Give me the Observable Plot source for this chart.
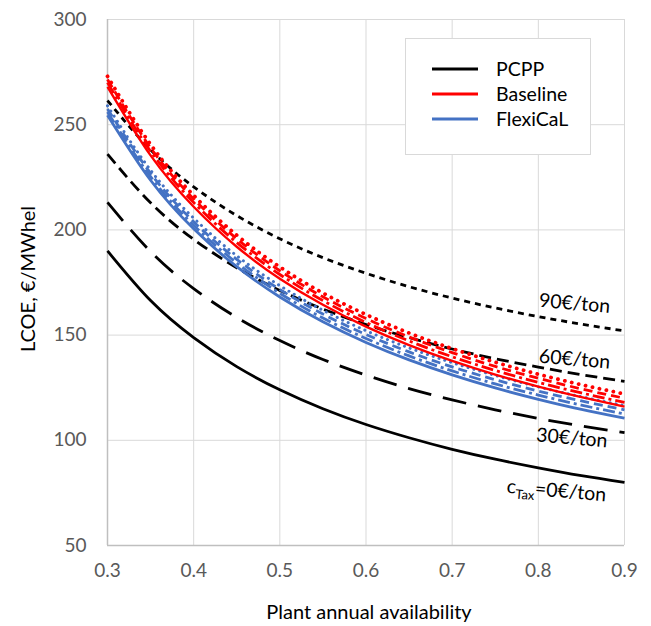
<!DOCTYPE html>
<html>
<head>
<meta charset="utf-8">
<script src="https://cdn.jsdelivr.net/npm/d3@7"></script>
<script src="https://cdn.jsdelivr.net/npm/@observablehq/plot@0.6"></script>
<style>
  html, body { margin: 0; padding: 0; background: #fff; }
  #chart { width: 651px; height: 626px; }
</style>
</head>
<body>
<div id="chart"></div>
<script>
// ---- Data ----
const availability = [0.3, 0.35, 0.4, 0.45, 0.5, 0.55, 0.6, 0.65, 0.7, 0.75, 0.8, 0.85, 0.9];

const pcpp0  = [190.0, 166.4, 148.8, 135.0, 124.0, 115.0, 107.5, 101.2, 95.7, 91.0, 86.9, 83.2, 80.0];
const pcpp30 = [213.1, 189.7, 172.1, 158.4, 147.4, 138.4, 131.0, 124.6, 119.2, 114.5, 110.4, 106.8, 103.6];
const pcpp60 = [236.0, 212.9, 195.5, 182.0, 171.2, 162.4, 155.0, 148.8, 143.4, 138.8, 134.8, 131.2, 128.0];
const pcpp90 = [261.5, 238.1, 220.5, 206.8, 195.8, 186.8, 179.4, 173.0, 167.6, 162.9, 158.8, 155.2, 152.0];

const base0  = [268.0, 235.4, 211.0, 192.0, 176.8, 164.4, 154.0, 145.2, 137.7, 131.2, 125.5, 120.5, 116.0];
const base30 = [270.0, 237.4, 213.0, 194.0, 178.8, 166.4, 156.0, 147.2, 139.7, 133.2, 127.5, 122.5, 118.0];
const base60 = [271.5, 239.0, 214.7, 195.8, 180.6, 168.2, 157.9, 149.1, 141.7, 135.1, 129.5, 124.4, 120.0];
const base90 = [273.0, 240.6, 216.4, 197.5, 182.4, 170.0, 159.8, 151.0, 143.6, 137.1, 131.4, 126.4, 122.0];

const flex0  = [254.5, 223.6, 200.5, 182.5, 168.1, 156.3, 146.5, 138.2, 131.1, 124.9, 119.5, 114.7, 110.5];
const flex30 = [256.0, 225.3, 202.2, 184.3, 169.9, 158.1, 148.4, 140.1, 133.0, 126.8, 121.5, 116.7, 112.5];
const flex60 = [257.5, 226.9, 203.9, 186.0, 171.7, 160.0, 150.3, 142.0, 134.9, 128.8, 123.4, 118.7, 114.5];
const flex90 = [259.0, 228.4, 205.6, 187.7, 173.5, 161.8, 152.1, 143.9, 136.9, 130.8, 125.4, 120.7, 116.5];

const legendNames = ["PCPP", "Baseline", "FlexiCaL"];
const taxLabels = ["90€/ton", "60€/ton", "30€/ton", "cTax=0€/ton"];
const xTicks = [0.3, 0.4, 0.5, 0.6, 0.7, 0.8, 0.9];
const yTicks = [50, 100, 150, 200, 250, 300];
const xTitle = "Plant annual availability";
const yTitle = "LCOE, €/MWhel";

// ---- Styles ----
const BLACK = "#000000", RED = "#FF0000", BLUE = "#4472C4";
const legendColors = [BLACK, RED, BLUE];

const series = [
  {v: pcpp0,  stroke: BLACK, w: 2.8, dash: null, cap: "butt"},
  {v: pcpp30, stroke: BLACK, w: 2.8, dash: "24 12", cap: "butt"},
  {v: pcpp60, stroke: BLACK, w: 2.8, dash: "12 6", cap: "butt"},
  {v: pcpp90, stroke: BLACK, w: 2.8, dash: "6 5", cap: "butt"},
  {v: flex90, stroke: BLUE, w: 3, dash: "0.1 6", cap: "round"},
  {v: flex60, stroke: BLUE, w: 2.8, dash: "9 5", cap: "butt"},
  {v: flex30, stroke: BLUE, w: 2.8, dash: "12 4 3 4", cap: "butt"},
  {v: flex0,  stroke: BLUE, w: 2.8, dash: null, cap: "butt"},
  {v: base90, stroke: RED, w: 3.8, dash: "0.1 7", cap: "round"},
  {v: base60, stroke: RED, w: 2.8, dash: "9 5", cap: "butt"},
  {v: base30, stroke: RED, w: 2.8, dash: "12 4 3 4", cap: "butt"},
  {v: base0,  stroke: RED, w: 2.4, dash: null, cap: "butt"}
];

const lineMarks = series.map(s => Plot.line(
  availability.map((x, i) => ({x, y: s.v[i]})),
  {x: "x", y: "y", stroke: s.stroke, strokeWidth: s.w,
   strokeDasharray: s.dash ?? undefined, strokeLinecap: s.cap, curve: "natural"}
));

const labelRows = [
  {t: taxLabels[0], x: 0.842, y: 165.0},
  {t: taxLabels[1], x: 0.842, y: 138.5},
  {t: taxLabels[2], x: 0.839, y: 101.0},
  {t: taxLabels[3], x: 0.821, y: 76.0}
];

const FONT = "Lato, 'Open Sans', sans-serif";

const plot = Plot.plot({
  width: 651,
  height: 626,
  marginLeft: 107,
  marginRight: 27,
  marginTop: 19,
  marginBottom: 81,
  style: {fontFamily: FONT, fontSize: "19px", color: "#595959", background: "#fff"},
  x: {domain: [0.3, 0.9], label: null},
  y: {domain: [50, 300], label: null},
  marks: [
    Plot.gridX(xTicks, {stroke: "#d9d9d9", strokeOpacity: 1, strokeWidth: 1}),
    Plot.gridY(yTicks, {stroke: "#d9d9d9", strokeOpacity: 1, strokeWidth: 1}),
    Plot.ruleX([0.3], {stroke: "#bfbfbf", strokeWidth: 1.5}),
    Plot.ruleY([50], {stroke: "#bfbfbf", strokeWidth: 1.5}),
    Plot.axisX(xTicks, {tickSize: 0, tickPadding: 18, tickFormat: d3.format(".1f"), label: null, fill: "#595959", fontSize: 19}),
    Plot.axisY(yTicks, {tickSize: 0, tickPadding: 21, label: null, fill: "#595959", fontSize: 19}),
    ...lineMarks,
    Plot.text(labelRows, {x: "x", y: "y", text: "t", rotate: 5, fontSize: 19.5, fill: "#000", fontFamily: FONT})
  ]
});

document.getElementById("chart").appendChild(plot);

const svg = d3.select(plot);

// Subscript in the carbon tax label
svg.selectAll("text").filter(function() { return this.textContent === taxLabels[3]; })
  .each(function() {
    const t = d3.select(this);
    t.text(null);
    t.append("tspan").text("c");
    t.append("tspan").attr("font-size", 13).attr("dy", 5).text("Tax");
    t.append("tspan").attr("dy", -5).text("=0€/ton");
  });

// Axis titles
svg.append("text")
  .attr("x", 369).attr("y", 619)
  .attr("text-anchor", "middle")
  .attr("font-family", FONT).attr("font-size", 20).attr("fill", "#000")
  .text(xTitle);
svg.append("text")
  .attr("transform", "translate(35,279) rotate(-90)")
  .attr("text-anchor", "middle")
  .attr("font-family", FONT).attr("font-size", 20).attr("fill", "#000")
  .text(yTitle);

// Legend
const lg = svg.append("g");
lg.append("rect").attr("x", 405.5).attr("y", 38.5).attr("width", 185).attr("height", 116)
  .attr("fill", "#fff").attr("stroke", "#d9d9d9").attr("stroke-width", 1);
legendNames.forEach((name, i) => {
  const y = 69 + i * 25;
  lg.append("line").attr("x1", 432).attr("x2", 478).attr("y1", y).attr("y2", y)
    .attr("stroke", legendColors[i]).attr("stroke-width", 3);
  lg.append("text").attr("x", 496).attr("y", y).attr("dy", "0.35em")
    .attr("text-anchor", "start")
    .attr("font-family", FONT).attr("font-size", 19.5).attr("fill", "#000").text(name);
});
</script>
</body>
</html>
